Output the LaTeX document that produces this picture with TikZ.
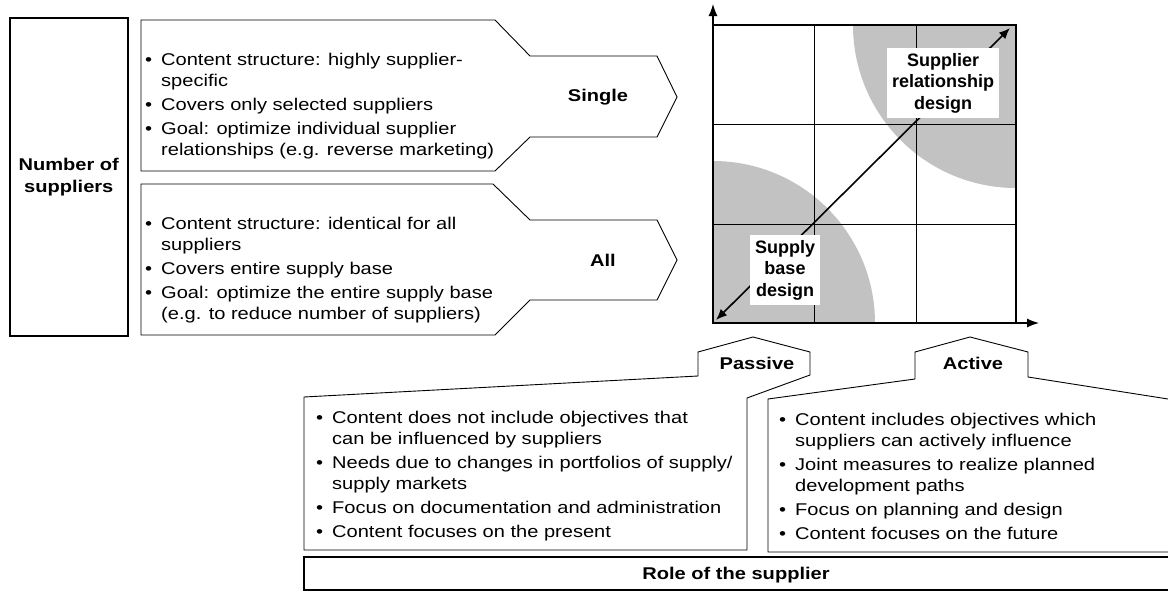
\documentclass[tikz,border=0pt]{standalone}
\usepackage{fontspec}
\setmainfont{Liberation Sans}[FakeStretch=1.18]
\newfontfamily\lblfont{Liberation Sans}
\usetikzlibrary{arrows.meta}
\newcommand\bul{\makebox[16pt][l]{\textbullet}}
\newcommand\ind{\hspace*{16pt}}
\begin{document}
\begin{tikzpicture}[x=1pt,y=-1pt,
  outl/.style={draw=black,line width=0.9pt,line join=miter},
  body/.style={font=\fontsize{17}{21}\selectfont,align=left,inner sep=0pt},
  lbl/.style={font=\fontsize{17}{22}\selectfont\bfseries,inner sep=0pt},
  biglbl/.style={font=\lblfont\fontsize{18}{21.5}\selectfont\bfseries,align=center,fill=white,inner sep=5pt},
  ax/.style={line width=1.2pt,-{Latex[length=12pt,width=9pt]}},
  grid/.style={line width=0.8pt},
  shade/.style={fill=black!24}]
\useasboundingbox (0,0) rectangle (1168,592);
% left box
\node[draw,line width=1.6pt,minimum width=118pt,minimum height=318pt,anchor=north west,inner sep=0pt] (nbox) at (9,17) {};
\node[lbl,align=center] (num) at (nbox.center) {Number of\\suppliers};
% upper pentagon
\draw[outl] (141,20) -- (495,20) -- (530,56) -- (657,56) -- (677,97) -- (657,137) -- (530,137) -- (495,171) -- (141,171) -- cycle;
\node[body,anchor=west] (single txt) at (145,106) {%
\bul Content structure: highly supplier-\\
\ind specific\\[3pt]
\bul Covers only selected suppliers\\[3pt]
\bul Goal: optimize individual supplier\\
\ind relationships (e.g. reverse marketing)};
\node[lbl] (single) at (598,97) {Single};
% lower pentagon
\draw[outl] (141,184) -- (493,184) -- (530,220) -- (657,220) -- (677,260) -- (657,300) -- (530,300) -- (495,335) -- (141,335) -- cycle;
\node[body,anchor=west] (all txt) at (145,270) {%
\bul Content structure: identical for all\\
\ind suppliers\\[3pt]
\bul Covers entire supply base\\[3pt]
\bul Goal: optimize the entire supply base\\
\ind (e.g. to reduce number of suppliers)};
\node[lbl] (all) at (603,260) {All};
% matrix shading
\begin{scope}
\clip (713,25) rectangle (1016,323);
\fill[shade] (1016,25) circle (163);
\fill[shade] (713,323) circle (162);
\end{scope}
% grid
\draw[grid] (814,25) -- (814,323) (916,25) -- (916,323) (713,124) -- (1016,124) (713,224) -- (1016,224);
\draw[line width=1.3pt] (713,25) rectangle (1016,323);
\coordinate (o) at (713,323);
\coordinate (ytip) at (713,4);
\coordinate (xtip) at (1039,323);
\draw[ax] (o) -- (ytip);
\draw[ax] (o) -- (xtip);
\coordinate (dl) at (716,320);
\coordinate (ur) at (1010,28);
\draw[line width=1.6pt,{Latex[length=11pt,width=9pt]}-{Latex[length=11pt,width=9pt]}] (dl) -- (ur);
\node[biglbl] (srd) at (943,83) {Supplier\\relationship\\design};
\node[biglbl] (sbd) at (785,270) {Supply\\base\\design};
% passive
\draw[outl] (304,397) -- (698,376) -- (698,352) -- (753,337) -- (810,352) -- (810,375) -- (747,398) -- (747,550) -- (304,550) -- cycle;
\node[lbl] (passive) at (757,363) {Passive};
\node[body,anchor=west] (passive txt) at (316,476) {%
\bul Content does not include objectives that\\
\ind can be influenced by suppliers\\[3pt]
\bul Needs due to changes in portfolios of supply/\\
\ind supply markets\\[3pt]
\bul Focus on documentation and administration\\[3pt]
\bul Content focuses on the present};
% active
\draw[outl] (1168,552) -- (768,552) -- (768,399) -- (915,379) -- (915,352) -- (970,337) -- (1028,352) -- (1028,377) -- (1168,399);
\node[lbl] (active) at (973,363) {Active};
\node[body,anchor=west] (active txt) at (779,476) {%
\bul Content includes objectives which\\
\ind suppliers can actively influence\\[3pt]
\bul Joint measures to realize planned\\
\ind development paths\\[3pt]
\bul Focus on planning and design\\[3pt]
\bul Content focuses on the future};
% role bar
\draw[line width=2pt] (1168,557) -- (304,557) -- (304,590) -- (1168,590);
\node[lbl] (role) at (736,575) {Role of the supplier};
\end{tikzpicture}
\end{document}
